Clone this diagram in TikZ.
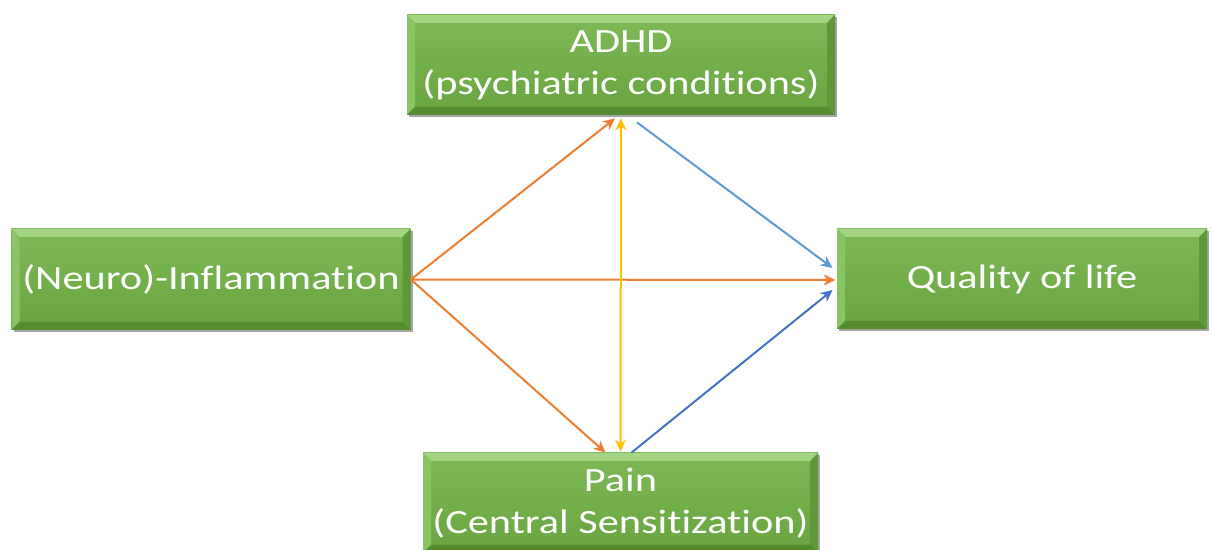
\documentclass[tikz,border=0pt]{standalone}
\usepackage{fontspec}
\setmainfont[FakeStretch=1.245,Ligatures=NoCommon]{Carlito}
\usetikzlibrary{arrows.meta,calc,shadows}
\definecolor{gmain}{HTML}{70AD47}
\definecolor{gtop}{HTML}{7DB956}
\definecolor{gbot}{HTML}{68A43F}
\definecolor{bevT}{HTML}{A2D584}
\definecolor{bevL}{HTML}{8AC266}
\definecolor{bevR}{HTML}{5E9838}
\definecolor{bevB}{HTML}{548C2F}
\definecolor{aorange}{HTML}{ED7D31}
\definecolor{ayellow}{HTML}{FFC000}
\definecolor{ablue}{HTML}{5B9BD5}
\definecolor{adblue}{HTML}{4472C4}
\tikzset{
  gbox/.style={rectangle, inner sep=0pt, align=center, text=white,
    font=\fontsize{17}{21}\selectfont,
    top color=gtop, bottom color=gbot,
    drop shadow={shadow xshift=1pt, shadow yshift=-1.2pt, fill=black, opacity=0.35},
    path picture={
      \coordinate (nw) at (path picture bounding box.north west);
      \coordinate (ne) at (path picture bounding box.north east);
      \coordinate (sw) at (path picture bounding box.south west);
      \coordinate (se) at (path picture bounding box.south east);
      \fill[bevT] (nw) -- (ne) -- ($(ne)+(-4pt,-4pt)$) -- ($(nw)+(4pt,-4pt)$) -- cycle;
      \fill[bevL] (nw) -- (sw) -- ($(sw)+(4pt,4pt)$) -- ($(nw)+(4pt,-4pt)$) -- cycle;
      \fill[bevR] (ne) -- (se) -- ($(se)+(-4pt,4pt)$) -- ($(ne)+(-4pt,-4pt)$) -- cycle;
      \fill[bevB] (sw) -- (se) -- ($(se)+(-4pt,4pt)$) -- ($(sw)+(4pt,4pt)$) -- cycle;
    }},
  conn/.style={line width=1pt, -{Stealth[length=6pt,width=5.5pt]}},
}
\begin{document}
\begin{tikzpicture}[x=0.5pt,y=-0.5pt]
\useasboundingbox (0,0) rectangle (1212,550);
\clip (0,0) rectangle (1212,550);
\node[gbox, minimum width=214pt, minimum height=50pt] (adhd) at (621,65) {ADHD\\(psychiatric conditions)};
\node[gbox, minimum width=199.5pt, minimum height=50.5pt] (infl) at (211,279.5) {(Neuro)-Inflammation};
\node[gbox, minimum width=185pt, minimum height=50pt] (qol) at (1022,279) {Quality of life};
\node[gbox, minimum width=197.5pt, minimum height=50pt] (pain) at (620.5,503) {Pain\\(Central Sensitization)};
\coordinate (src) at (infl.east);
\coordinate (aL) at ($(adhd.south)+(-6,3)$);
\coordinate (aM) at ($(adhd.south)+(0,3)$);
\coordinate (aR) at ($(adhd.south)+(16,7)$);
\coordinate (pL) at ($(pain.north)+(-15,0)$);
\coordinate (pM) at ($(pain.north)+(0,-1)$);
\coordinate (pR) at ($(pain.north)+(11,0)$);
\coordinate (qT) at ($(qol.west)+(-4,-11)$);
\coordinate (qM) at ($(qol.west)+(-1,1)$);
\coordinate (qB) at ($(qol.west)+(-4,11)$);
\draw[conn, aorange] (src) -- (aL);
\draw[conn, aorange] (src) -- (qM);
\draw[conn, aorange] (src) -- (pL);
\draw[line width=1pt, ayellow, {Stealth[length=6pt,width=5.5pt]}-{Stealth[length=6pt,width=5.5pt]}] (aM) -- (pM);
\draw[conn, ablue] (aR) -- (qT);
\draw[conn, adblue] (pR) -- (qB);
\end{tikzpicture}
\end{document}
